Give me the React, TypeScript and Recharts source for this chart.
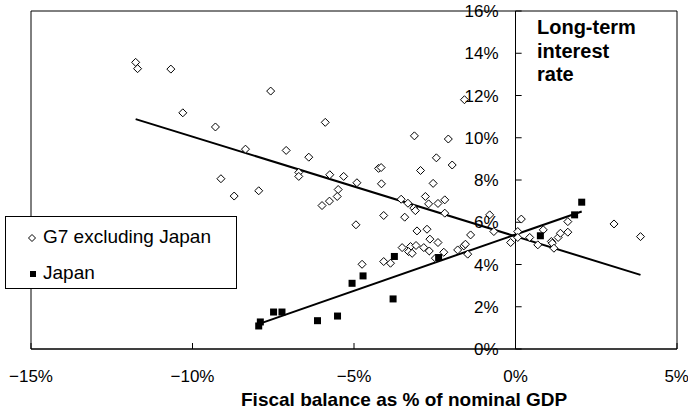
import React from 'react';
import { ScatterChart, Scatter, XAxis, YAxis, ReferenceLine, ReferenceArea, Legend } from 'recharts';

const xTicks = [-15, -10, -5, 0, 5];
const yTicks = [0, 2, 4, 6, 8, 10, 12, 14, 16];

const g7Fiscal = [-11.76, -11.70, -10.67, -10.30, -9.29, -8.36, -9.12, -8.71, -7.95, -7.58, -5.89, -7.10, -6.40, -6.71, -6.71, -5.75, -5.32, -4.91, -5.49, -5.52, -5.76, -5.99, -4.24, -4.16, -4.15, -3.13, -2.08, -2.45, -1.96, -2.94, -2.55, -1.58, -3.54, -3.33, -3.15, -2.79, -2.69, -2.40, -2.19, -3.10, -2.19, -4.08, -3.43, -4.94, -0.80, -0.67, -3.05, -2.74, -1.39, -2.65, -2.40, -3.51, -3.25, -3.08, -3.31, -3.20, -2.84, -2.67, -2.22, -2.48, -1.79, -1.60, -1.55, -1.48, -4.75, -4.08, -3.87, -0.15, 0.18, 0.07, 0.07, 0.44, 0.69, 0.86, 1.11, 1.14, 1.19, 1.32, 1.39, 1.62, 1.62, 3.05, 3.87];
const g7Rate = [13.57, 13.27, 13.25, 11.18, 10.51, 9.46, 8.06, 7.24, 7.49, 12.21, 10.73, 9.40, 9.08, 8.36, 8.17, 8.25, 8.17, 7.87, 7.55, 7.22, 7.00, 6.79, 8.55, 8.59, 7.82, 10.09, 9.94, 9.05, 8.71, 8.45, 7.84, 11.80, 7.09, 6.90, 6.67, 7.22, 6.87, 6.89, 7.06, 6.55, 6.43, 6.32, 6.24, 5.88, 6.35, 5.56, 5.59, 5.67, 5.40, 5.20, 5.04, 4.80, 4.85, 4.90, 4.61, 4.53, 4.80, 4.64, 4.58, 4.30, 4.69, 4.88, 4.96, 4.49, 4.01, 4.14, 4.06, 5.04, 6.15, 5.56, 5.28, 5.28, 4.93, 5.64, 5.09, 5.01, 4.77, 5.28, 5.48, 5.53, 6.03, 5.92, 5.32];

const japanFiscal = [-7.95, -7.90, -7.49, -7.23, -6.13, -5.51, -5.06, -4.72, -3.79, -3.75, -2.38, 0.77, 1.83, 2.05];
const japanRate = [1.09, 1.28, 1.75, 1.75, 1.34, 1.56, 3.11, 3.46, 2.37, 4.38, 4.33, 5.36, 6.35, 6.95];

const g7TrendFiscal = [-11.76, 3.87];
const g7TrendRate = [10.88, 3.51];
const japanTrendFiscal = [-7.96, 2.05];
const japanTrendRate = [1.18, 6.51];

const zip = (xs: number[], ys: number[]) => xs.map((x, i) => ({ x, y: ys[i] }));
const g7Data = zip(g7Fiscal, g7Rate);
const japanData = zip(japanFiscal, japanRate);
const g7Trend = zip(g7TrendFiscal, g7TrendRate);
const japanTrend = zip(japanTrendFiscal, japanTrendRate);

const FONT = '"Liberation Sans", Arial, sans-serif';
const pct = (v: number) => (v < 0 ? '\u2212' + Math.abs(v) : String(v)) + '%';

const Diamond = (props: any) => {
  const { cx, cy } = props;
  const r = 4;
  return <path d={`M${cx},${cy - r}L${cx + r},${cy}L${cx},${cy + r}L${cx - r},${cy}Z`} fill="#fff" stroke="#000" strokeWidth={1} />;
};
const Square = (props: any) => {
  const { cx, cy } = props;
  return <rect x={cx - 3.5} y={cy - 3.5} width={7} height={7} fill="#000" />;
};
const NoShape = () => <g />;

const LegendBox = () => (
  <div style={{ width: 230, height: 71, border: '1px solid #000', background: '#fff', fontFamily: FONT, fontSize: 19, color: '#000', boxSizing: 'content-box', textAlign: 'left' }}>
    <div style={{ position: 'relative', height: 36 }}>
      <svg width={10} height={10} style={{ position: 'absolute', left: 21, top: 16 }}>
        <path d="M5,1.5L8.5,5L5,8.5L1.5,5Z" fill="#fff" stroke="#000" strokeWidth={1} />
      </svg>
      <span style={{ position: 'absolute', left: 37, top: 9, lineHeight: '22px', whiteSpace: 'nowrap' }}>G7 excluding Japan</span>
    </div>
    <div style={{ position: 'relative', height: 35 }}>
      <svg width={10} height={10} style={{ position: 'absolute', left: 22, top: 16 }}>
        <rect x={2} y={2} width={6} height={6} fill="#000" />
      </svg>
      <span style={{ position: 'absolute', left: 37, top: 9, lineHeight: '22px', whiteSpace: 'nowrap' }}>Japan</span>
    </div>
  </div>
);

export default function App() {
  return (
    <div style={{ position: 'absolute', left: 0, top: 0, width: 688, height: 412, background: '#fff', fontFamily: FONT }}>
      <ScatterChart width={688} height={412} margin={{ top: 11, right: 11, bottom: 33, left: 31 }} style={{ fontFamily: FONT }}>
        <XAxis
          type="number"
          dataKey="x"
          domain={[-15, 5]}
          ticks={xTicks}
          tickFormatter={pct}
          height={30}
          tickSize={-6}
          tickMargin={27}
          axisLine={{ stroke: '#000' }}
          tickLine={{ stroke: '#000' }}
          tick={{ fill: '#000', fontSize: 17, fontFamily: FONT }}
          allowDataOverflow
        />
        <YAxis type="number" dataKey="y" domain={[0, 16]} hide allowDataOverflow />
        <ReferenceArea x1={-15} x2={5} y1={0} y2={16} fill="none" stroke="#000" strokeWidth={1} fillOpacity={0} ifOverflow="visible" />
        <ReferenceLine x={0} stroke="#000" strokeWidth={1} />
        {yTicks.map((v) => (
          <ReferenceLine
            key={v}
            segment={[{ x: 0, y: v }, { x: 0.19, y: v }]}
            stroke="#000"
            strokeWidth={1}
            ifOverflow="visible"
            label={{ value: pct(v), position: 'left', offset: 17, fill: '#000', fontSize: 17, fontFamily: FONT }}
          />
        ))}
        <Scatter name="G7 trend" data={g7Trend} line={{ stroke: '#000', strokeWidth: 2 }} shape={NoShape} isAnimationActive={false} legendType="none" />
        <Scatter name="Japan trend" data={japanTrend} line={{ stroke: '#000', strokeWidth: 2 }} shape={NoShape} isAnimationActive={false} legendType="none" />
        <Scatter name="G7 excluding Japan" data={g7Data} shape={Diamond} isAnimationActive={false} />
        <Scatter name="Japan" data={japanData} shape={Square} isAnimationActive={false} />
        <Legend
          layout="horizontal"
          verticalAlign="middle"
          align="center"
          content={<LegendBox />}
          wrapperStyle={{ left: 5, top: 216, width: 232, height: 73 }}
        />
      </ScatterChart>
      <div style={{ position: 'absolute', left: 537, top: 16, fontSize: 20, fontWeight: 'bold', lineHeight: '23.5px', color: '#000' }}>
        Long-term<br />interest<br />rate
      </div>
      <div style={{ position: 'absolute', left: 241, top: 389, fontSize: 19, fontWeight: 'bold', lineHeight: '22px', color: '#000', whiteSpace: 'nowrap' }}>
        Fiscal balance as % of nominal GDP
      </div>
    </div>
  );
}
